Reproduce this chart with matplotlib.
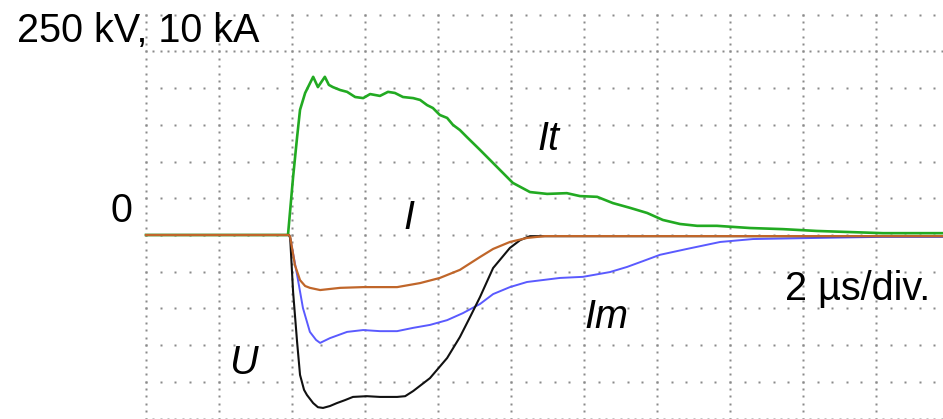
import numpy as np
import matplotlib
matplotlib.use("Agg")
import matplotlib.pyplot as plt

# ---------------- data ----------------
# scales: 2 us/div horizontally, 250 kV/div and 10 kA/div vertically
US_PER_DIV = 2.0
KV_PER_DIV = 250.0
KA_PER_DIV = 10.0

# It : green current (kA)
t_it = [0.00, 3.89, 4.03, 4.14, 4.22, 4.36, 4.47, 4.58, 4.71, 4.90, 5.01, 5.12,
        5.32, 5.51, 5.73, 5.95, 6.14, 6.41, 6.63, 6.82, 7.04, 7.32, 7.51, 7.70,
        7.86, 8.05, 8.25, 8.41, 8.60, 8.79, 9.15, 9.62, 10.05, 10.52, 10.99,
        11.53, 11.89, 12.36, 12.79, 13.26, 13.73, 14.16, 14.63, 15.10, 15.64,
        16.55, 17.45, 18.38, 19.29, 20.19, 21.84]
i_it = [0.0, 0.0, 15.8, 26.7, 34.1, 38.7, 40.9, 43.1, 40.3, 43.1, 40.9, 40.3,
        39.5, 39.0, 37.6, 37.3, 38.4, 37.9, 39.0, 38.7, 37.6, 37.3, 36.8, 35.4,
        34.6, 32.7, 31.9, 30.0, 28.6, 26.7, 23.2, 18.5, 14.2, 11.7, 11.2,
        11.4, 10.6, 10.4, 8.7, 7.4, 6.0, 4.1, 3.0, 2.5, 2.5,
        1.9, 1.6, 1.1, 0.8, 0.5, 0.5]

# I : orange current (kA)
t_i = [0.00, 3.92, 3.95, 4.08, 4.22, 4.36, 4.49, 4.77, 5.32, 5.95, 6.88, 7.51,
       8.05, 8.60, 9.15, 9.51, 9.97, 10.44, 10.93, 21.84]
i_i = [0.0, 0.0, -0.5, -8.2, -12.3, -13.9, -14.4, -15.0, -14.4, -14.2, -14.2, -13.1,
       -11.7, -9.5, -6.0, -3.8, -1.9, -0.8, -0.3, -0.3]

# Im : blue current (kA)
t_im = [0.00, 3.92, 3.95, 4.14, 4.30, 4.49, 4.66, 4.77, 5.04, 5.51, 5.95, 6.41,
        6.88, 7.32, 7.78, 8.25, 8.68, 9.15, 9.51, 9.97, 10.44, 11.34, 11.97,
        12.71, 13.18, 13.62, 14.08, 14.82, 15.73, 16.63, 18.38, 20.19, 21.84]
i_im = [0.0, 0.0, -0.8, -10.9, -19.9, -26.4, -28.6, -29.4, -28.1, -26.4, -25.9, -26.2,
        -26.2, -25.3, -24.5, -23.2, -21.3, -18.8, -16.1, -14.2, -12.8, -11.7, -11.4,
        -10.1, -8.7, -7.1, -5.4, -3.8, -1.9, -1.1, -0.8, -0.5, -0.5]

# U : black voltage (kV)
t_u = [0.00, 3.92, 3.95, 4.03, 4.14, 4.22, 4.33, 4.41, 4.58, 4.71, 4.85, 5.04,
       5.23, 5.45, 5.67, 6.05, 6.41, 6.88, 7.10, 7.32, 7.78, 8.25, 8.60, 8.88,
       9.15, 9.51, 9.97, 10.25, 10.52, 21.84]
u_u = [0, 0, -20, -388, -730, -953, -1055, -1090, -1145, -1173, -1178, -1165,
       -1145, -1125, -1103, -1098, -1103, -1103, -1098, -1063, -975, -838, -695, -558,
       -423, -225, -88, -35, -8, -8]

# ---------------- figure ----------------
W, H = 943, 419
fig = plt.figure(figsize=(W / 100, H / 100), dpi=100)
ax = fig.add_axes([0, 0, 1, 1])
ax.set_axis_off()

# pixel geometry of graticule
X0_PX, DX_PX = 146.0, 73.0      # left grid line, px per horizontal division
Y0_PX, DY_PX = 235.0, 36.7      # zero line, px per vertical division
x_left = -X0_PX / DX_PX * US_PER_DIV
x_right = (W - X0_PX) / DX_PX * US_PER_DIV
y_top = Y0_PX / DY_PX
y_bot = -(H - Y0_PX) / DY_PX
ax.set_xlim(x_left, x_right)
ax.set_ylim(y_bot, y_top)

grid_col = "#8a8a8a"
ms = 1.9
# vertical graticule lines (dots every 1/5 vertical division)
yv = np.arange(-5, 6.001, 0.2)
for k in range(0, 11):
    xv = k * US_PER_DIV
    ax.plot(np.full_like(yv, xv), yv, ls="none", marker="s", ms=ms,
            mec="none", mfc=grid_col, zorder=1)
# horizontal graticule lines (dots every 1/5 horizontal division)
for j in range(-5, 7):
    step = 0.2 if j in (5, -5) else 0.4
    xh = np.arange(0, x_right + 0.01, step)
    ax.plot(xh, np.full_like(xh, j), ls="none", marker="s", ms=ms,
            mec="none", mfc=grid_col, zorder=1)

# traces
ax.plot(t_im, np.array(i_im) / KA_PER_DIV, color="#5a5aff", lw=1.4, zorder=3)
ax.plot(t_it, np.array(i_it) / KA_PER_DIV, color="#22aa22", lw=1.9, zorder=4)
ax.plot(t_u, np.array(u_u) / KV_PER_DIV, color="#111111", lw=1.5, zorder=5)
ax.plot(t_i, np.array(i_i) / KA_PER_DIV, color="#c0662a", lw=1.6, zorder=6)

# text
fs = 28.5
fam = ["Liberation Sans", "DejaVu Sans"]
def ftxt(px, py, s, ha="left", style="normal"):
    fig.text(px / W, 1 - py / H, s, ha=ha, va="baseline", fontsize=fs,
             family=fam, style=style, color="black", zorder=10)

ftxt(17, 42, "250 kV, 10 kA")
ftxt(132, 222, "0", ha="right")
ftxt(537, 150, "It", style="italic")
ftxt(403, 229, "I", style="italic")
ftxt(584, 328, "Im", style="italic")
ftxt(229, 374, "U", style="italic")
ftxt(785, 300, "2 \u00b5s/div.")

fig.savefig("out.png", dpi=100, facecolor="white")
